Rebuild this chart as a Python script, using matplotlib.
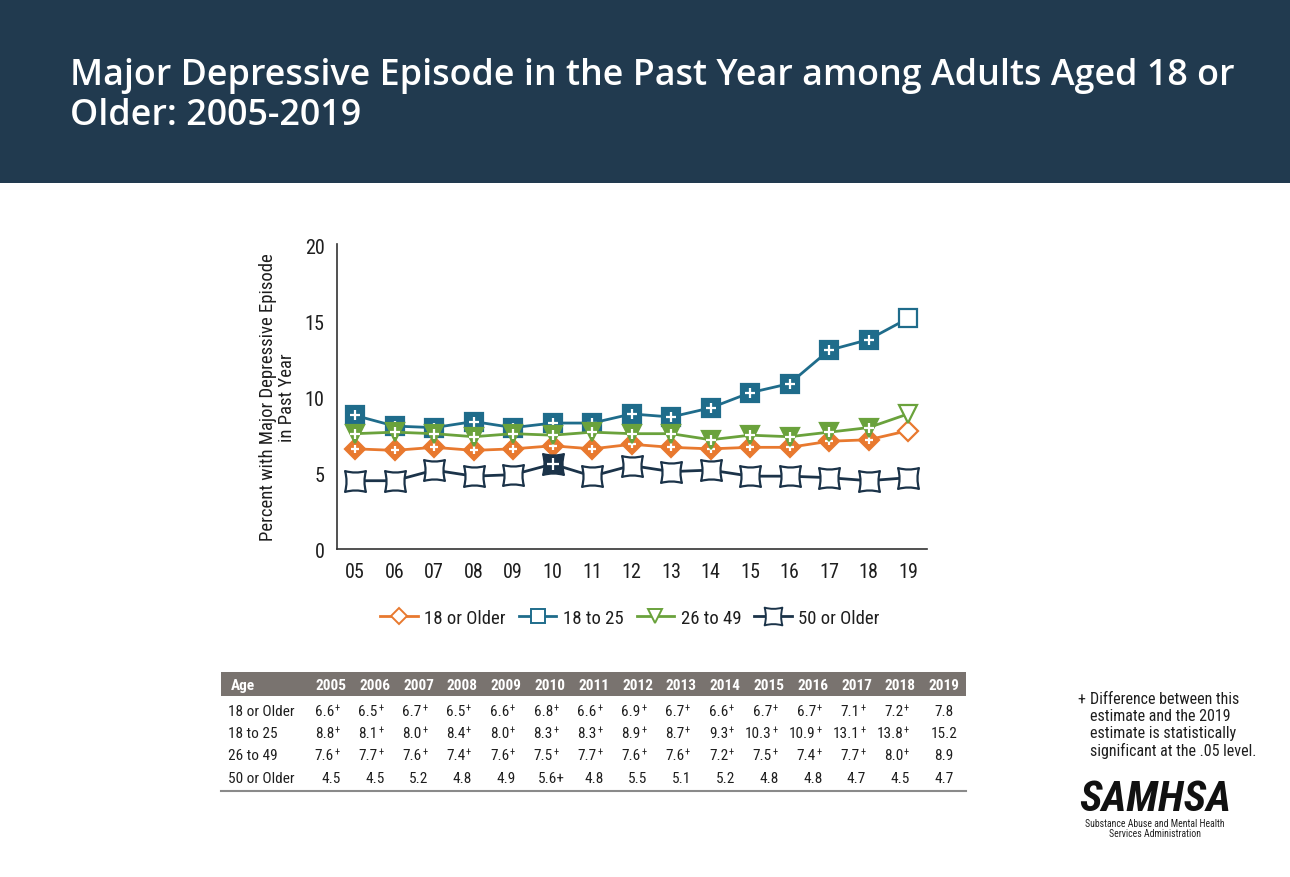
import matplotlib
matplotlib.use("Agg")
import matplotlib.pyplot as plt
from matplotlib.path import Path
from matplotlib.lines import Line2D
from matplotlib.patches import Rectangle

# ---------------- data ----------------
year_ticks = ['05', '06', '07', '08', '09', '10', '11', '12', '13', '14', '15', '16', '17', '18', '19']
table_years = ['2005', '2006', '2007', '2008', '2009', '2010', '2011', '2012', '2013', '2014',
               '2015', '2016', '2017', '2018', '2019']
age_groups = ['18 or Older', '18 to 25', '26 to 49', '50 or Older']

v_18plus = [6.6, 6.5, 6.7, 6.5, 6.6, 6.8, 6.6, 6.9, 6.7, 6.6, 6.7, 6.7, 7.1, 7.2, 7.8]
v_18_25 = [8.8, 8.1, 8.0, 8.4, 8.0, 8.3, 8.3, 8.9, 8.7, 9.3, 10.3, 10.9, 13.1, 13.8, 15.2]
v_26_49 = [7.6, 7.7, 7.6, 7.4, 7.6, 7.5, 7.7, 7.6, 7.6, 7.2, 7.5, 7.4, 7.7, 8.0, 8.9]
v_50plus = [4.5, 4.5, 5.2, 4.8, 4.9, 5.6, 4.8, 5.5, 5.1, 5.2, 4.8, 4.8, 4.7, 4.5, 4.7]

sig_18plus = [1] * 14 + [0]
sig_18_25 = [1] * 14 + [0]
sig_26_49 = [1] * 14 + [0]
sig_50plus = [0, 0, 0, 0, 0, 1, 0, 0, 0, 0, 0, 0, 0, 0, 0]

title = "Major Depressive Episode in the Past Year among Adults Aged 18 or\nOlder: 2005-2019"
ylabel = "Percent with Major Depressive Episode\nin Past Year"
footnote = "Difference between this\nestimate and the 2019\nestimate is statistically\nsignificant at the .05 level."

# ---------------- style ----------------
NARROW = ['Roboto Condensed', 'Archivo Narrow', 'DejaVu Sans']
TITLE_FONT = ['Open Sans', 'DejaVu Sans']

C_ORANGE = '#e8792f'
C_TEAL = '#1f6c8b'
C_GREEN = '#6aa23c'
C_NAVY = '#1b3349'
C_HEADER = '#213a4f'
C_TABLEHEAD = '#79736f'
C_TEXT = '#1e1e1e'

# concave square marker
cs_verts = [(-1, -1), (0, -0.72), (1, -1), (0.72, 0), (1, 1), (0, 0.72), (-1, 1), (-0.72, 0), (-1, -1), (-1, -1)]
cs_codes = [Path.MOVETO, Path.CURVE3, Path.CURVE3, Path.CURVE3, Path.CURVE3,
            Path.CURVE3, Path.CURVE3, Path.CURVE3, Path.CURVE3, Path.CLOSEPOLY]
concave_sq = Path(cs_verts, cs_codes)

W, H = 1290, 878
fig = plt.figure(figsize=(W / 100, H / 100), dpi=100)
fig.patch.set_facecolor('white')

# header band
fig.patches.append(Rectangle((0, 1 - 184 / H), 1, 184 / H, transform=fig.transFigure,
                             facecolor=C_HEADER, edgecolor='none', zorder=0))
fig.text(70 / W, 1 - 96 / H, title, color='white', fontsize=25.8, fontweight='semibold',
         family=TITLE_FONT, ha='left', va='center', linespacing=1.12)

# ---------------- chart ----------------
ax = fig.add_axes([337 / W, 1 - 550 / H, 590 / W, 305 / H])
x = list(range(len(year_ticks)))

series = [
    (v_18plus, sig_18plus, C_ORANGE, 'D', 10),
    (v_18_25, sig_18_25, C_TEAL, 's', 12.5),
    (v_26_49, sig_26_49, C_GREEN, 'v', 12.5),
    (v_50plus, sig_50plus, C_NAVY, concave_sq, 15),
]
for i, (vals, sig, col, mk, ms) in enumerate(series):
    z = 3 + i
    ax.plot(x, vals, color=col, lw=2.0, zorder=z, solid_joinstyle='round')
    xs = [xi for xi, s in zip(x, sig) if s]
    ys = [v for v, s in zip(vals, sig) if s]
    xn = [xi for xi, s in zip(x, sig) if not s]
    yn = [v for v, s in zip(vals, sig) if not s]
    ax.plot(xs, ys, ls='none', marker=mk, ms=ms, mfc=col, mec=col, mew=1.6, zorder=z + 0.1)
    ax.plot(xs, ys, ls='none', marker='+', ms=ms * 0.55, mec='white', mew=1.6, zorder=z + 0.2)
    ax.plot(xn, yn, ls='none', marker=mk, ms=ms, mfc='white', mec=col, mew=1.6, zorder=z + 0.1)

ax.set_xlim(-0.46, 14.48)
ax.set_ylim(0, 20.1)
ax.set_yticks([0, 5, 10, 15, 20])
ax.set_xticks(x)
ax.set_xticklabels(year_ticks)
for sp in ['top', 'right']:
    ax.spines[sp].set_visible(False)
for sp in ['left', 'bottom']:
    ax.spines[sp].set_color('#333333')
    ax.spines[sp].set_linewidth(1.2)
ax.tick_params(length=0, labelsize=14.5, colors=C_TEXT, pad=9)
for lab in ax.get_xticklabels() + ax.get_yticklabels():
    lab.set_family(NARROW)
ax.set_ylabel(ylabel, fontsize=13.5, family=NARROW, color=C_TEXT, labelpad=6, linespacing=1.05)

# legend
handles = []
for (vals, sig, col, mk, ms), name in zip(series, age_groups):
    handles.append(Line2D([], [], color=col, lw=2.0, marker=mk, ms=ms * 0.85,
                          mfc='white', mec=col, mew=1.4))
fig.legend(handles, age_groups, loc='center', bbox_to_anchor=(630 / W, 1 - 619 / H), ncol=4,
           frameon=False, prop={'family': NARROW, 'size': 13.5}, handlelength=2.0,
           columnspacing=0.7, handletextpad=0.35, labelcolor=C_TEXT)

# ---------------- table ----------------
tab_left, tab_right = 221, 966
fig.patches.append(Rectangle((tab_left / W, 1 - 697 / H), (tab_right - tab_left) / W, 24 / H,
                             transform=fig.transFigure, facecolor=C_TABLEHEAD, edgecolor='none'))
fig.add_artist(Line2D([tab_left / W, tab_right / W], [1 - 792 / H, 1 - 792 / H],
                      transform=fig.transFigure, color='#8a8a8a', lw=1.5))
head_y = 1 - 686 / H
fig.text(231 / W, head_y, 'Age', color='white', fontsize=11, fontweight='bold',
         family=NARROW, ha='left', va='center')
col_x = [331 + 43.8 * i for i in range(len(table_years))]
for cx, yr in zip(col_x, table_years):
    fig.text(cx / W, head_y, yr, color='white', fontsize=11, fontweight='bold',
             family=NARROW, ha='center', va='center')

row_y = [712, 734, 756, 779]
all_vals = [v_18plus, v_18_25, v_26_49, v_50plus]
all_sig = [sig_18plus, sig_18_25, sig_26_49, sig_50plus]
for r, (ry, name, vals, sig) in enumerate(zip(row_y, age_groups, all_vals, all_sig)):
    fy = 1 - ry / H
    fig.text(228 / W, fy, name, color=C_TEXT, fontsize=11, family=NARROW,
             ha='left', va='center')
    for cx, v, s in zip(col_x, vals, sig):
        if s and r < 3:
            fig.text((cx + 3) / W, fy, f"{v:.1f}", color=C_TEXT, fontsize=11,
                     family=NARROW, ha='right', va='center')
            fig.text((cx + 3.5) / W, fy + 3.5 / H, '+', color=C_TEXT, fontsize=7.5,
                     family=NARROW, ha='left', va='center')
        elif s:
            fig.text((cx + 1) / W, fy, f"{v:.1f}+", color=C_TEXT, fontsize=11,
                     family=NARROW, ha='center', va='center')
        else:
            fig.text(cx / W, fy, f"{v:.1f}", color=C_TEXT, fontsize=11,
                     family=NARROW, ha='center', va='center')

# footnote
fig.text(1077 / W, 1 - 700 / H, '+', color=C_TEXT, fontsize=11.5, family=NARROW,
         ha='left', va='center')
fig.text(1090 / W, 1 - 692 / H, footnote, color=C_TEXT, fontsize=11.5, family=NARROW,
         ha='left', va='top', linespacing=1.15)

# logo
fig.text(1155 / W, 1 - 800 / H, 'SAMHSA', color='#111111', fontsize=31, fontweight='bold',
         fontstyle='italic', family=NARROW, ha='center', va='center')
fig.text(1155 / W, 1 - 829 / H, 'Substance Abuse and Mental Health\nServices Administration',
         color='#222222', fontsize=7, family=NARROW, ha='center', va='center', linespacing=1.05)

fig.savefig('out.png', dpi=100)
